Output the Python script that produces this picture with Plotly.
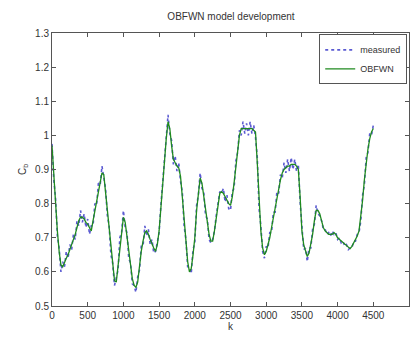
import plotly.graph_objects as go

step = 25
model = [
    0.97, 0.88, 0.80, 0.72, 0.66, 0.62, 0.615, 0.63, 0.64, 0.65,
    0.665, 0.68, 0.69, 0.71, 0.73, 0.75, 0.76, 0.76, 0.755, 0.745,
    0.74, 0.73, 0.72, 0.75, 0.78, 0.81, 0.84, 0.87, 0.89, 0.885,
    0.83, 0.78, 0.72, 0.665, 0.61, 0.575, 0.57, 0.62, 0.68, 0.73,
    0.76, 0.745, 0.70, 0.655, 0.61, 0.58, 0.56, 0.555, 0.57, 0.62,
    0.66, 0.69, 0.715, 0.72, 0.71, 0.695, 0.68, 0.67, 0.66, 0.68,
    0.72, 0.79, 0.86, 0.93, 0.99, 1.04, 1.02, 0.97, 0.93, 0.92,
    0.91, 0.905, 0.88, 0.82, 0.75, 0.68, 0.63, 0.60, 0.61, 0.65,
    0.70, 0.78, 0.84, 0.875, 0.86, 0.82, 0.78, 0.74, 0.71, 0.69,
    0.69, 0.72, 0.76, 0.80, 0.83, 0.835, 0.83, 0.82, 0.81, 0.80,
    0.795, 0.82, 0.86, 0.91, 0.96, 1.00, 1.02, 1.02, 1.02, 1.02,
    1.02, 1.02, 1.02, 1.015, 1.01, 0.92, 0.80, 0.72, 0.67, 0.65,
    0.66, 0.68, 0.70, 0.73, 0.76, 0.79, 0.82, 0.845, 0.87, 0.89,
    0.90, 0.905, 0.91, 0.91, 0.915, 0.915, 0.915, 0.91, 0.90, 0.82,
    0.72, 0.68, 0.66, 0.645, 0.655, 0.68, 0.71, 0.75, 0.78, 0.78,
    0.77, 0.75, 0.73, 0.72, 0.715, 0.71, 0.71, 0.71, 0.715, 0.71,
    0.70, 0.695, 0.69, 0.685, 0.68, 0.675, 0.67, 0.668, 0.675, 0.685,
    0.695, 0.705, 0.72, 0.76, 0.81, 0.87, 0.92, 0.96, 0.99, 1.01,
    1.02,
]
measured = [
    0.975, 0.87, 0.815, 0.705, 0.67, 0.60, 0.63, 0.615, 0.66, 0.64,
    0.68, 0.665, 0.71, 0.695, 0.75, 0.735, 0.78, 0.745, 0.77, 0.73,
    0.755, 0.71, 0.735, 0.735, 0.80, 0.795, 0.86, 0.855, 0.91, 0.87,
    0.845, 0.765, 0.735, 0.65, 0.625, 0.56, 0.585, 0.605, 0.70, 0.715,
    0.78, 0.73, 0.715, 0.64, 0.625, 0.565, 0.56, 0.54, 0.585, 0.605,
    0.675, 0.675, 0.735, 0.705, 0.725, 0.68, 0.695, 0.655, 0.66, 0.685,
    0.715, 0.795, 0.855, 0.935, 0.985, 1.06, 1.005, 0.985, 0.915, 0.94,
    0.895, 0.92, 0.865, 0.835, 0.735, 0.695, 0.615, 0.615, 0.595, 0.665,
    0.685, 0.795, 0.825, 0.89, 0.845, 0.835, 0.765, 0.755, 0.695, 0.685,
    0.695, 0.72, 0.765, 0.795, 0.835, 0.83, 0.845, 0.805, 0.825, 0.785,
    0.78, 0.835, 0.845, 0.925, 0.95, 1.015, 1.00, 1.04, 1.005, 1.035,
    1.00, 1.04, 1.005, 1.03, 0.995, 0.935, 0.785, 0.735, 0.66, 0.64,
    0.675, 0.67, 0.715, 0.715, 0.775, 0.775, 0.835, 0.83, 0.885, 0.875,
    0.92, 0.89, 0.93, 0.895, 0.935, 0.90, 0.93, 0.895, 0.915, 0.805,
    0.735, 0.665, 0.67, 0.63, 0.67, 0.67, 0.725, 0.74, 0.795, 0.77,
    0.765, 0.75, 0.725, 0.725, 0.71, 0.715, 0.705, 0.72, 0.71, 0.715,
    0.695, 0.70, 0.685, 0.69, 0.675, 0.68, 0.665, 0.67, 0.67, 0.69,
    0.69, 0.71, 0.715, 0.75, 0.825, 0.855, 0.935, 0.95, 1.005, 1.00,
    1.03,
]
k_model = [i * step for i in range(len(model))]
k_meas = [i * step for i in range(len(measured))]

font = dict(family="Liberation Sans, Arial, sans-serif", size=10, color="#333333")

fig = go.Figure()
fig.add_trace(go.Scatter(x=k_meas, y=measured, mode="lines", name="measured",
                         line=dict(color="#5a5ad2", width=1.6, dash="dot")))
fig.add_trace(go.Scatter(x=k_model, y=model, mode="lines", name="OBFWN",
                         line=dict(color="#1f8a1f", width=1.3)))

axis = dict(showline=True, linecolor="#555555", linewidth=1, mirror="allticks",
            ticks="inside", ticklen=4, tickcolor="#555555", showgrid=False,
            zeroline=False, tickfont=font)
fig.update_layout(
    width=420, height=340,
    margin=dict(l=52, r=10, t=33, b=30),
    paper_bgcolor="white", plot_bgcolor="white",
    font=font,
    title=dict(text="OBFWN model development", x=0.55, xanchor="center",
               y=0.94, yanchor="bottom", font=dict(size=10, color="#333333")),
    legend=dict(x=0.995, y=0.995, xanchor="right", yanchor="top",
                bordercolor="#555555", borderwidth=1, bgcolor="white",
                font=dict(size=9, color="#333333"), tracegroupgap=0,
                itemwidth=30),
    xaxis=dict(axis, range=[0, 5000], dtick=500, tick0=0,
               title=dict(text="k", standoff=2, font=font)),
    yaxis=dict(axis, range=[0.5, 1.3], dtick=0.1, tick0=0.5,
               title=dict(text="C<sub>b</sub>", standoff=6, font=font)),
)
fig.write_html("out.html")
